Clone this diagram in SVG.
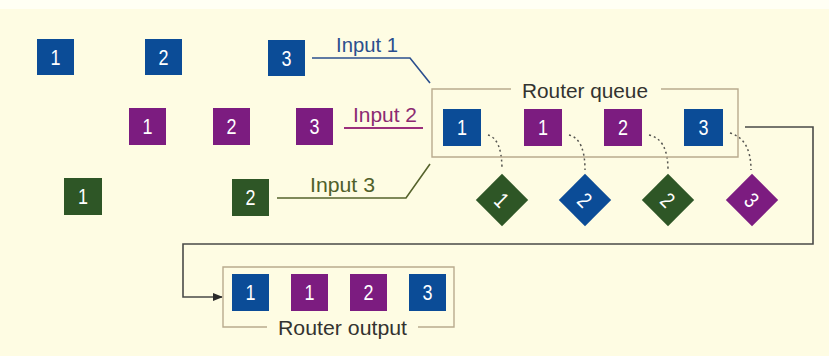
<svg xmlns="http://www.w3.org/2000/svg" width="829" height="356" viewBox="0 0 829 356">
<defs>
<style>
.b{fill:#0b4c97}
.p{fill:#7c1c80}
.g{fill:#2e5626}
.d{font-family:"Liberation Sans",Arial,sans-serif;font-size:22px;fill:#ffffff;text-anchor:middle}
.lbl{font-family:"Liberation Sans",Arial,sans-serif;font-size:21px}
.box{fill:none;stroke:#b9ab8e;stroke-width:1.4}
.conn{fill:none;stroke:#4a4a48;stroke-width:1.6}
.dot{fill:none;stroke:#555550;stroke-width:1.5;stroke-dasharray:2 3}
</style>
<marker id="arr" viewBox="0 0 10 10" refX="9" refY="5" markerWidth="10" markerHeight="10" markerUnits="userSpaceOnUse" orient="auto">
<path d="M0,1 L10,5 L0,9 Z" fill="#2a2a2a"/>
</marker>
</defs>
<rect x="0" y="0" width="829" height="356" fill="#fefce3"/>
<rect x="0" y="0" width="829" height="9" fill="#fffff4"/>

<g id="connectors">
<polyline class="conn" points="312,58 410,58 430,83" style="stroke:#2b4f8e"/>
<line x1="344" y1="128" x2="423" y2="128" style="stroke:#9b2f7c;stroke-width:1.8"/>
<polyline class="conn" points="277,198 406,198 430,164" style="stroke:#56632c"/>
<polyline class="conn" points="745,127 813,127 813,244 183,244 183,297 222,297" marker-end="url(#arr)"/>
<path class="dot" d="M488,135 Q502,139 502,170"/>
<path class="dot" d="M569,135 Q585,139 585,170"/>
<path class="dot" d="M649,135 Q668,139 668,170"/>
<path class="dot" d="M730,133 Q751,139 751,170"/>
</g>

<g id="labels">
<text class="lbl" x="336" y="52" fill="#2b4f8e" textLength="62" lengthAdjust="spacingAndGlyphs">Input 1</text>
<text class="lbl" x="353" y="122" fill="#8c2a72" textLength="64" lengthAdjust="spacingAndGlyphs">Input 2</text>
<text class="lbl" x="310" y="192" fill="#50602a" textLength="65" lengthAdjust="spacingAndGlyphs">Input 3</text>
</g>

<g id="router-queue">
<polyline class="box" points="511,89 432,89 432,157 738,157 738,89 661,89"/>
<text class="lbl" x="522" y="98" fill="#333330" textLength="126" lengthAdjust="spacingAndGlyphs">Router queue</text>
</g>

<g id="router-output">
<polyline class="box" points="267,327 223,327 223,267 454,267 454,327 418,327"/>
<text class="lbl" x="278" y="335" fill="#333330" textLength="129" lengthAdjust="spacingAndGlyphs">Router output</text>
</g>

<g id="in1-1"><rect class="b" x="37" y="39" width="37" height="36"/><text class="d" x="55.5" y="65" textLength="10" lengthAdjust="spacingAndGlyphs">1</text></g>
<g id="in1-2"><rect class="b" x="145" y="39" width="37" height="36"/><text class="d" x="163.5" y="65" textLength="10" lengthAdjust="spacingAndGlyphs">2</text></g>
<g id="in1-3"><rect class="b" x="268" y="40" width="37" height="36"/><text class="d" x="286.5" y="66" textLength="10" lengthAdjust="spacingAndGlyphs">3</text></g>

<g id="in2-1"><rect class="p" x="129" y="108" width="37" height="37"/><text class="d" x="147.5" y="134" textLength="10" lengthAdjust="spacingAndGlyphs">1</text></g>
<g id="in2-2"><rect class="p" x="213" y="108" width="37" height="37"/><text class="d" x="231.5" y="134" textLength="10" lengthAdjust="spacingAndGlyphs">2</text></g>
<g id="in2-3"><rect class="p" x="296" y="108" width="37" height="37"/><text class="d" x="314.5" y="134" textLength="10" lengthAdjust="spacingAndGlyphs">3</text></g>

<g id="in3-1"><rect class="g" x="64" y="178" width="38" height="37"/><text class="d" x="83" y="204" textLength="10" lengthAdjust="spacingAndGlyphs">1</text></g>
<g id="in3-2"><rect class="g" x="232" y="179" width="37" height="37"/><text class="d" x="250.5" y="205" textLength="10" lengthAdjust="spacingAndGlyphs">2</text></g>

<g id="q-1"><rect class="b" x="443" y="109" width="38" height="37"/><text class="d" x="462" y="135" textLength="10" lengthAdjust="spacingAndGlyphs">1</text></g>
<g id="q-2"><rect class="p" x="524" y="109" width="38" height="37"/><text class="d" x="543" y="135" textLength="10" lengthAdjust="spacingAndGlyphs">1</text></g>
<g id="q-3"><rect class="p" x="604" y="109" width="38" height="37"/><text class="d" x="623" y="135" textLength="10" lengthAdjust="spacingAndGlyphs">2</text></g>
<g id="q-4"><rect class="b" x="684" y="109" width="39" height="37"/><text class="d" x="703.5" y="135" textLength="10" lengthAdjust="spacingAndGlyphs">3</text></g>

<g id="dia-1" transform="translate(502,200) rotate(45)"><rect class="g" x="-18.5" y="-18.5" width="37" height="37"/><text class="d" x="0" y="8" textLength="10" lengthAdjust="spacingAndGlyphs">1</text></g>
<g id="dia-2" transform="translate(585,200) rotate(45)"><rect class="b" x="-18.5" y="-18.5" width="37" height="37"/><text class="d" x="0" y="8" textLength="10" lengthAdjust="spacingAndGlyphs">2</text></g>
<g id="dia-3" transform="translate(668,200) rotate(45)"><rect class="g" x="-18.5" y="-18.5" width="37" height="37"/><text class="d" x="0" y="8" textLength="10" lengthAdjust="spacingAndGlyphs">2</text></g>
<g id="dia-4" transform="translate(752,200) rotate(45)"><rect class="p" x="-18.5" y="-18.5" width="37" height="37"/><text class="d" x="0" y="8" textLength="10" lengthAdjust="spacingAndGlyphs">3</text></g>

<g id="out-1"><rect class="b" x="232" y="274" width="37" height="37"/><text class="d" x="250.5" y="300" textLength="10" lengthAdjust="spacingAndGlyphs">1</text></g>
<g id="out-2"><rect class="p" x="291" y="274" width="37" height="37"/><text class="d" x="309.5" y="300" textLength="10" lengthAdjust="spacingAndGlyphs">1</text></g>
<g id="out-3"><rect class="p" x="350" y="274" width="37" height="37"/><text class="d" x="368.5" y="300" textLength="10" lengthAdjust="spacingAndGlyphs">2</text></g>
<g id="out-4"><rect class="b" x="409" y="274" width="37" height="37"/><text class="d" x="427.5" y="300" textLength="10" lengthAdjust="spacingAndGlyphs">3</text></g>
</svg>
